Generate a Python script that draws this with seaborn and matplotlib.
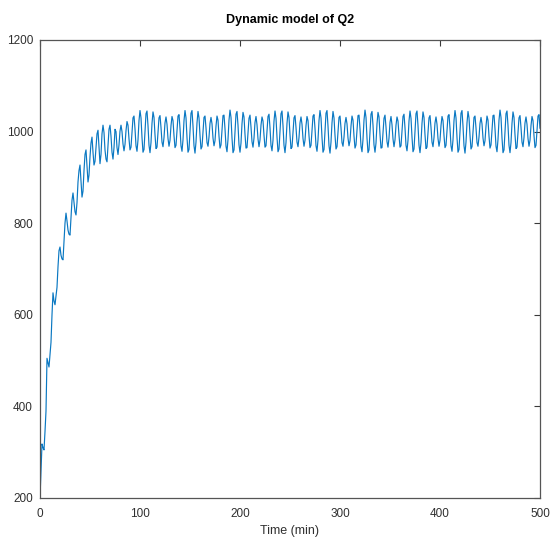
import numpy as np
import pandas as pd
import matplotlib
matplotlib.use("Agg")
import matplotlib.pyplot as plt
import seaborn as sns

# ---- data ----
q2_rise = [200, 262, 318, 310, 305, 345, 390, 505, 495, 486,
           512, 540, 600, 648, 630, 622, 640, 660, 705, 740,
           748, 730, 722, 720, 760, 800, 822, 805, 785, 776,
           774, 810, 850, 866, 845, 825, 818, 845, 890, 915,
           927, 890, 857, 870, 915, 950, 960, 925, 890, 905,
           945, 975, 988, 955, 927, 935, 965, 995, 1003, 968,
           930, 950, 995, 1014, 998, 960, 940, 934, 970, 1005,
           1014, 990, 955, 940, 965, 1005]
q2_settle = [1000, 965, 950, 971, 1001, 1014, 1000, 973, 958, 972,
             1002, 1022, 1014, 984, 960, 966, 998, 1030, 1034, 1006,
             969, 957, 982, 1024, 1046, 1030, 987, 955, 961]
q2_osc_a = [1000, 1039, 1045, 1013, 970, 954, 976, 1018, 1043, 1031,
            993, 963, 966, 998, 1030, 1035, 1009, 977, 967, 987,
            1019, 1032, 1016, 985, 968, 981, 1013, 1033, 1024, 991,
            965, 970, 1002, 1034, 1037, 1007, 969, 957, 982, 1024,
            1046, 1030, 987, 955, 961]
q2_osc_b = [1001, 1040, 1046, 1012, 969, 953, 977, 1019, 1044, 1030,
            992, 962, 967, 999, 1031, 1034, 1008, 976, 968, 988,
            1018, 1031, 1017, 986, 969, 980, 1012, 1034, 1025, 990,
            964, 971, 1003, 1035, 1036, 1006, 968, 956, 983, 1025,
            1047, 1031, 986, 954, 960]
q2_osc_c = [999, 1038, 1044, 1014, 971, 955, 975, 1017, 1042, 1032,
            994, 964, 965, 997, 1029, 1036, 1010, 978, 966, 986,
            1020, 1033, 1015, 984, 967, 982, 1014, 1032, 1023, 992,
            966, 969, 1001, 1033, 1038, 1008, 970, 958, 981, 1023,
            1045, 1029, 988, 956, 962]
q2_tail = [1000, 1039, 1045, 1013, 970, 954, 976, 1018, 1043, 1031,
           993, 963, 966, 998, 1030, 1035, 1009, 977, 967, 987,
           1019, 1032, 1016, 985, 968, 981, 1013, 1033, 1024, 991,
           965, 970, 1002, 1034, 1037, 1007]

x_ticks = [0, 100, 200, 300, 400, 500]
y_ticks = [200, 400, 600, 800, 1000, 1200]
title = "Dynamic model of Q2"
x_label = "Time (min)"

q2 = (q2_rise + q2_settle + q2_osc_a + q2_osc_b + q2_osc_c + q2_osc_a
      + q2_osc_b + q2_osc_c + q2_osc_a + q2_osc_b + q2_tail)
minutes = np.arange(len(q2))
df = pd.DataFrame({"t": minutes, "q": q2})

# ---- styling ----
sns.set_style("white")
plt.rcParams["font.family"] = ["Liberation Sans", "DejaVu Sans"]

fig = plt.figure(figsize=(5.52, 5.46), dpi=100)
ax = fig.add_axes([40 / 552, 1 - 498 / 546, 500 / 552, 458 / 546])
sns.lineplot(data=df, x="t", y="q", ax=ax, color="#0a78c2",
             linewidth=0.85, estimator=None)
ax.set_xlim(0, 500)
ax.set_ylim(200, 1200)
ax.set_xticks(x_ticks)
ax.set_yticks(y_ticks)
axc = "#3a3a3a"
ax.tick_params(direction="in", top=True, right=True, length=4, width=0.8,
               colors=axc, labelsize=8.5, labelcolor="#303030")
ax.tick_params(axis="x", pad=7)
ax.tick_params(axis="y", pad=5)
for s in ax.spines.values():
    s.set_color("#555555")
    s.set_linewidth(0.9)
ax.set_title(title, fontsize=9, fontweight="bold", pad=12, color="black")
ax.set_xlabel(x_label, fontsize=9, color="#303030", labelpad=4)
ax.set_ylabel("")
fig.savefig("out.png", dpi=100, facecolor="white")
